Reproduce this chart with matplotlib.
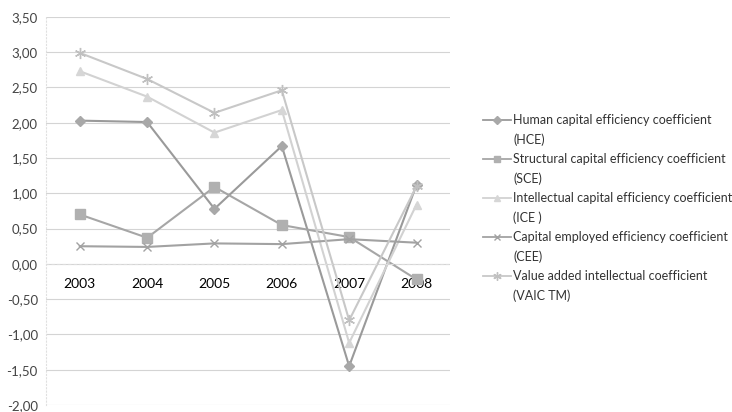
import matplotlib
matplotlib.use("Agg")
import matplotlib.pyplot as plt
from matplotlib.lines import Line2D

years = ["2003", "2004", "2005", "2006", "2007", "2008"]
hce = [2.03, 2.01, 0.78, 1.67, -1.45, 1.12]
sce = [0.70, 0.37, 1.09, 0.55, 0.38, -0.22]
ice = [2.73, 2.37, 1.86, 2.18, -1.12, 0.84]
cee = [0.25, 0.24, 0.29, 0.28, 0.35, 0.30]
vaic = [2.99, 2.62, 2.14, 2.46, -0.80, 1.10]

labels = [
    ("Human capital efficiency coefficient", "(HCE)"),
    ("Structural capital efficiency coefficient", "(SCE)"),
    ("Intellectual capital efficiency coefficient", "(ICE )"),
    ("Capital employed efficiency coefficient", "(CEE)"),
    ("Value added intellectual coefficient", "(VAIC TM)"),
]
yticks = [3.5, 3.0, 2.5, 2.0, 1.5, 1.0, 0.5, 0.0, -0.5, -1.0, -1.5, -2.0]

plt.rcParams["font.family"] = ["Lato", "DejaVu Sans"]

W, H = 732, 412
fig = plt.figure(figsize=(W / 100, H / 100), dpi=100)
ax = fig.add_axes([0.063, 0.017, 0.552, 0.942])

x = list(range(len(years)))
styles = [
    (hce, "#9a9a9a", "D", 5, "#a8a8a8"),
    (sce, "#a6a6a6", "s", 6.5, "#b0b0b0"),
    (ice, "#d2d2d2", "^", 6, "#d6d6d6"),
    (cee, "#a2a2a2", "x", 6, "#a2a2a2"),
    (vaic, "#c8c8c8", (6, 2, 0), 8, "#c0c0c0"),
]
for vals, col, mk, ms, mcol in styles:
    ax.plot(x, vals, color=col, lw=1.5, marker=mk, ms=ms,
            markerfacecolor=mcol, markeredgecolor=mcol, mew=1.0)

ax.set_xlim(-0.5, 5.5)
ax.set_ylim(-2.0, 3.5)
ax.set_yticks(yticks)
ax.set_yticklabels([f"{v:.2f}".replace(".", ",") for v in yticks],
                   fontsize=9.5, color="#444444")
ax.set_xticks(x)
ax.set_xticklabels(years, fontsize=9.5, color="#333333")
ax.tick_params(axis="both", length=0)
ax.tick_params(axis="y", pad=6)
ax.tick_params(axis="x", pad=10)

ax.grid(axis="y", color="#d4d4d4", lw=0.8)
ax.set_axisbelow(True)
for side in ["top", "right"]:
    ax.spines[side].set_visible(False)
ax.spines["bottom"].set_position(("data", 0))
ax.spines["bottom"].set_color("#dddddd")
ax.spines["bottom"].set_linestyle((0, (2, 3)))
ax.spines["left"].set_color("#e0e0e0")
ax.spines["left"].set_linestyle((0, (1, 2)))

# Legend drawn entry by entry: handle beside the first text line
row_y = [120, 159, 198, 237, 276]
for (vals, col, mk, ms, mcol), (l1, l2), py in zip(styles, labels, row_y):
    fy = 1 - py / H
    fig.add_artist(Line2D([483 / W, 511 / W], [fy, fy], color=col, lw=1.3,
                          transform=fig.transFigure))
    fig.add_artist(Line2D([497 / W], [fy], marker=mk, ms=ms * 0.75, color=mcol,
                          markeredgecolor=mcol, mew=1.0,
                          transform=fig.transFigure))
    fig.text(513 / W, fy, l1, fontsize=9, color="#333333", va="center")
    fig.text(513 / W, fy - 20 / H, l2, fontsize=9, color="#333333", va="center")

fig.savefig("out.png", dpi=100, facecolor="white")
